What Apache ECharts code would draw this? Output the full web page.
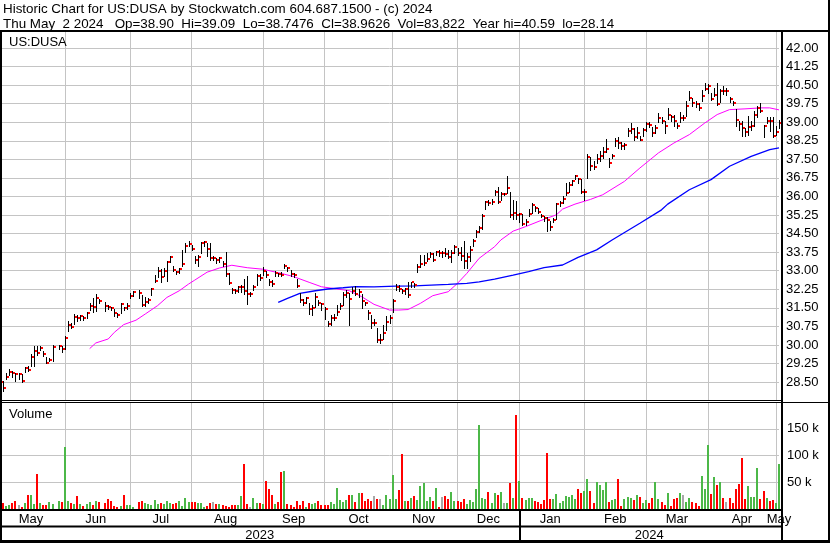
<!DOCTYPE html>
<html><head><meta charset="utf-8">
<script src="https://cdn.jsdelivr.net/npm/echarts@6/dist/echarts.min.js"></script>
<style>html,body{margin:0;padding:0;background:#fff}#c{width:830px;height:543px}</style>
</head><body><div id="c"></div>
<script>
const headerLine1 = 'Historic Chart for US:DUSA by Stockwatch.com 604.687.1500 - (c) 2024';
const headerLine2 = 'Thu May  2 2024   Op=38.90  Hi=39.09  Lo=38.7476  Cl=38.9626  Vol=83,822  Year hi=40.59  lo=28.14';
const symbolLabel = 'US:DUSA';
const volumeLabel = 'Volume';
const startDate = '2023-05-02';
const endDate = '2024-05-02';
const holidays = ['2023-05-29','2023-06-19','2023-07-04','2023-09-04','2023-11-23','2023-12-25','2024-01-01','2024-01-15','2024-02-19','2024-03-29'];
const monthNames = ['Jan','Feb','Mar','Apr','May','Jun','Jul','Aug','Sep','Oct','Nov','Dec'];

const closes = [
28.50,28.25,28.72,28.92,28.85,28.82,28.82,28.55,29.05,29.00,29.50,29.74,29.66,29.86,29.62,29.28,29.40,29.90,null,29.94,29.82,
30.30,30.82,30.71,31.14,31.09,31.15,31.07,31.28,31.59,31.52,31.90,31.76,null,31.59,31.52,31.48,31.28,31.20,31.65,31.48,31.59,
31.99,32.13,null,32.09,31.61,31.75,31.82,32.26,32.60,33.00,32.73,32.97,33.36,33.54,33.04,32.93,33.07,33.27,34.00,34.08,
33.89,33.45,33.55,34.12,34.14,33.86,33.53,33.53,33.42,33.50,33.28,32.86,32.50,32.23,32.16,32.34,32.36,32.16,32.07,32.07,32.34,32.77,32.70,
33.00,32.82,32.53,32.45,32.90,32.86,32.83,33.19,33.09,32.86,32.81,32.38,31.81,31.68,31.88,31.47,31.51,31.95,31.68,31.64,
31.47,30.84,31.07,31.10,31.34,31.58,32.00,32.08,31.85,32.19,32.04,32.15,31.78,31.68,31.30,30.90,30.90,30.19,30.19,30.49,30.93,31.07,
31.77,32.35,32.28,32.19,32.25,32.00,32.53,32.42,33.13,33.27,33.30,33.46,33.66,33.43,33.74,33.70,33.70,33.67,33.54,33.73,33.97,
33.70,33.59,33.41,33.55,33.84,34.18,34.58,34.72,35.22,35.76,35.73,35.76,36.18,35.76,36.10,36.10,36.36,35.26,35.32,35.25,
35.30,34.89,34.95,35.30,35.66,35.53,35.39,35.23,35.12,35.05,34.76,35.03,35.70,35.73,35.90,36.16,36.47,36.61,36.81,36.70,36.18,
36.20,37.58,37.22,37.18,37.53,37.65,37.80,37.93,37.35,37.62,38.23,38.16,38.05,38.10,38.64,38.73,38.39,38.57,38.30,38.70,
38.93,38.90,38.57,38.77,39.18,39.07,38.84,39.31,39.20,39.04,38.84,39.18,39.18,39.65,39.96,39.78,39.72,39.58,40.05,40.36,
40.46,39.95,40.09,39.74,40.28,40.26,40.26,39.92,39.78,39.10,38.93,38.77,38.60,38.80,38.84,39.31,39.58,39.47,38.84,39.07,39.04,38.43,
38.60,38.96];

const highs = [
28.95,28.55,28.85,29.03,28.95,28.88,28.85,28.82,29.12,29.15,29.63,29.97,29.97,29.97,29.75,29.50,29.48,30.00,null,30.00,29.96,
30.37,30.98,30.90,31.25,31.20,31.20,31.18,31.35,31.70,31.90,32.05,31.85,null,31.72,31.60,31.55,31.45,31.30,31.70,31.55,31.70,
32.10,32.18,null,32.20,32.00,31.95,31.88,32.32,32.82,33.15,33.05,33.10,33.40,33.58,33.20,33.00,33.10,33.85,34.10,34.20,
34.05,33.60,33.62,34.15,34.20,34.10,34.10,33.60,33.50,33.55,33.40,33.75,32.90,32.30,32.25,32.40,32.42,32.65,32.80,32.15,32.42,32.88,32.88,
33.14,33.00,32.65,32.62,32.98,32.92,32.95,33.28,33.15,33.02,32.90,32.65,32.08,31.85,31.95,31.68,31.60,32.10,31.80,31.68,
31.55,30.95,31.22,31.25,31.60,31.68,32.15,32.23,32.10,32.33,32.40,32.25,32.05,31.75,31.42,31.20,31.05,30.70,30.45,30.80,31.15,31.20,
31.85,32.45,32.42,32.28,32.30,32.55,32.55,32.50,33.28,33.62,33.62,33.70,33.75,33.70,33.80,33.85,33.78,33.90,33.85,33.82,34.05,
33.90,33.95,34.20,33.70,34.00,34.30,34.65,34.80,35.30,35.80,35.85,35.90,36.28,36.40,36.20,36.15,36.84,36.20,35.85,35.80,
35.35,35.30,35.10,35.50,35.72,35.62,35.55,35.30,35.20,35.18,35.00,35.12,35.75,35.80,36.00,36.55,36.60,36.68,36.88,36.75,36.70,
36.30,37.73,37.60,37.45,37.70,37.85,37.98,38.32,37.55,37.70,38.35,38.40,38.20,38.18,38.78,38.98,38.75,38.80,38.45,38.78,
39.01,39.00,38.80,38.90,39.38,39.20,39.04,39.58,39.30,39.30,38.98,39.42,39.30,39.85,40.25,39.96,39.85,39.78,40.32,40.59,
40.55,40.20,40.38,40.59,40.35,40.45,40.40,40.00,39.85,39.52,39.05,39.05,38.77,39.27,39.05,39.45,39.65,39.76,38.90,39.20,39.20,39.20,
38.85,39.09];

const lows = [
28.40,28.14,28.62,28.78,28.70,28.55,28.62,28.50,28.90,28.95,29.16,29.13,29.60,29.78,29.55,29.25,29.35,29.37,null,29.85,29.70,
29.83,30.55,30.68,30.85,30.95,31.00,31.00,31.10,31.40,31.35,31.38,31.70,null,31.38,31.45,31.40,31.15,31.12,31.30,31.42,31.45,
31.90,31.98,null,31.90,31.58,31.58,31.70,32.00,32.55,32.75,32.55,32.80,32.60,33.35,33.00,32.85,32.90,33.20,33.75,34.00,
33.85,33.30,33.20,33.70,34.00,33.60,33.45,33.45,33.30,33.35,33.20,32.80,32.45,32.10,32.08,32.15,32.15,32.05,31.66,31.98,32.20,32.42,32.62,
32.82,32.75,32.42,32.40,32.78,32.80,32.78,33.10,33.00,32.80,32.75,32.35,31.75,31.60,31.68,31.25,31.20,31.55,31.60,31.40,
31.05,30.78,30.80,31.00,31.20,31.45,31.60,31.95,30.80,32.10,32.00,31.95,31.50,31.60,31.03,30.68,30.80,30.10,30.08,30.25,30.60,30.88,
31.35,32.20,32.18,32.10,32.05,31.95,32.33,32.35,32.95,33.15,33.25,33.38,33.55,33.40,33.65,33.60,33.55,33.60,33.50,33.35,33.70,
33.62,33.45,33.10,33.10,33.40,34.00,34.35,34.55,34.70,35.50,35.65,35.70,36.05,35.75,35.85,36.05,36.15,35.15,35.10,35.10,
34.95,34.85,34.85,35.20,35.35,35.40,35.32,35.15,35.00,34.60,34.65,34.95,35.10,35.60,35.75,36.05,36.20,36.48,36.70,36.55,36.15,
35.85,36.74,37.05,37.10,37.35,37.45,37.55,37.80,37.20,37.55,38.05,37.95,37.90,37.92,38.45,38.58,38.30,38.35,38.28,38.45,
38.64,38.80,38.45,38.58,38.99,38.95,38.58,39.12,39.05,38.85,38.75,38.99,39.10,39.25,39.88,39.65,39.60,39.50,39.85,40.30,
40.18,39.88,40.05,39.70,39.80,40.15,40.12,39.80,39.70,38.85,38.70,38.45,38.45,38.50,38.70,38.85,39.20,39.40,38.40,38.95,38.65,38.40,
38.50,38.75];

// volume in thousands of shares
const volumes = [
15,10.6,5.6,7.5,10.6,15,7.5,4.4,10.6,26,26,9.3,65,10.6,7.5,7.5,12.5,9.3,null,15,13,
116,15,10.6,9.3,24,8.7,5.6,9.3,13,7.5,15,13,null,10.6,18.7,15,5.6,3,5.6,26,7.5,
7.5,3,null,13,15,10.6,9.3,7.5,17,9.3,11,9.3,15,11,9.3,11,15,5.6,20.6,13,
13,13,11,11,4.4,5.6,10.6,13,9.3,9.3,7.5,5.6,3.7,7.5,7.5,7.5,24,84,9.3,3.7,20.6,11,11,
9.3,52,37,26,9.3,13,69,71,9.3,7.5,3.7,15,7.5,15,3.7,11,9.3,11,15,7.5,
7.5,7.5,13,9.3,39,17,13,17,26,26,13,30,30,15,18.7,15,24,18.7,18.7,7.5,26,18.7,
63.5,18.7,35.5,103,15,15,20.6,24,17,43,48,15,22,15,40,3,22,24,18.7,32,15,
15,13,18.7,9.3,17,13,37,157,20.6,18.7,32,11,30,26,32,11,11,48,20.6,175,
52,20.6,17,20.6,20.6,15,13,9.3,17,105,18.7,18.7,28,11,15,24,22,26,18.7,37,30,
34,57,34,11,51,45,35,51,13,17,19,56,5,19,22,20.6,17,26,22,11,
17,11,20.6,50,19,13,7.5,30,5.6,19,20.6,30,26,13,20.6,13,11,5,62,37,
120,28,60,45,50,21,13,21,11,37,47,95,19,43,22,22,76,19,34,21,15,17,
11,83.822];

// moving averages: [day index, value]
const maShort = [[29,29.85],[31,30.08],[35,30.24],[37,30.51],[40,30.82],[44,31.00],[47,31.25],[51,31.59],[54,31.92],[58,32.19],[61,32.46],[63,32.62],[67,32.94],[71,33.11],[75,33.22],[80,33.12],[85,33.06],[91,32.89],[95,32.76],[100,32.53],[104,32.35],[108,32.28],[113,32.19],[117,31.95],[121,31.64],[126,31.41],[129,31.41],[132,31.43],[136,31.68],[140,31.99],[145,32.15],[148,32.49],[151,32.89],[155,33.50],[160,33.97],[162,34.24],[166,34.60],[170,34.78],[175,35.03],[180,35.26],[182,35.49],[186,35.69],[191,35.88],[195,36.07],[202,36.61],[207,37.15],[213,37.76],[218,38.16],[223,38.50],[228,38.97],[232,39.31],[236,39.51],[241,39.54],[246,39.58],[249,39.58],[252,39.50]];
const maLong = [[90,31.72],[93,31.88],[97,32.08],[102,32.19],[106,32.26],[111,32.31],[115,32.36],[121,32.35],[128,32.38],[134,32.39],[145,32.45],[151,32.49],[155,32.55],[160,32.66],[166,32.82],[171,32.96],[176,33.12],[182,33.23],[187,33.54],[193,33.84],[198,34.24],[207,34.92],[214,35.46],[216,35.69],[223,36.27],[230,36.68],[236,37.22],[243,37.62],[249,37.89],[252,37.96]];

// ---- build categories (trading days) ----
function tradingDays(s, e, hol) {
  const out = []; const hs = new Set(hol);
  let d = new Date(s + 'T00:00:00Z'); const end = new Date(e + 'T00:00:00Z');
  while (d <= end) {
    const wd = d.getUTCDay(); const iso = d.toISOString().slice(0, 10);
    if (wd !== 0 && wd !== 6 && !hs.has(iso)) out.push(iso);
    d = new Date(d.getTime() + 86400000);
  }
  return out;
}
const dates = tradingDays(startDate, endDate, holidays);
const monthStart = new Set(); const monthLabel = new Set(); const yearLabel = new Set(); const yearStart = new Set();
(function () {
  let segs = [0];
  for (let i = 1; i < dates.length; i++) if (dates[i].slice(5, 7) !== dates[i - 1].slice(5, 7)) { monthStart.add(i); segs.push(i); }
  segs.push(dates.length);
  for (let k = 0; k < segs.length - 1; k++) monthLabel.add(Math.floor((segs[k] + segs[k + 1]) / 2));
  let ys = [0];
  for (let i = 1; i < dates.length; i++) if (dates[i].slice(0, 4) !== dates[i - 1].slice(0, 4)) { ys.push(i); yearStart.add(i); }
  ys.push(dates.length);
  for (let k = 0; k < ys.length - 1; k++) yearLabel.add(Math.floor((ys[k] + ys[k + 1]) / 2));
})();

const priceData = []; const volData = [];
let prev = null;
for (let i = 0; i < dates.length; i++) {
  if (closes[i] != null) priceData.push([i, highs[i], lows[i], closes[i]]);
  if (volumes[i] != null) {
    let dir = 0;
    if (prev != null && closes[i] != null) dir = closes[i] > prev ? 1 : (closes[i] < prev ? -1 : 0);
    volData.push([i, volumes[i], dir]);
  }
  if (closes[i] != null) prev = closes[i];
}

const FONT = 'Liberation Sans, Arial, sans-serif';
const GRID_C = '#c4c4c4';
const GREEN = '#4cb848', RED = '#ff0000', GRAY = '#a8a8a8';

const chart = echarts.init(document.getElementById('c'));
const blk = (x, y, w, h) => ({ type: 'rect', z: 100, shape: { x, y, width: w, height: h }, style: { fill: '#000' }, silent: true });
const txt = (x, y, t, fs) => ({ type: 'text', z: 101, x, y, style: { text: t, font: fs + 'px ' + FONT, fill: '#000', verticalAlign: 'middle', align: 'left' }, silent: true });

const splitMonth = { show: true, interval: (i) => monthStart.has(i), lineStyle: { color: GRID_C, width: 1 } };

chart.setOption({
  animation: false,
  backgroundColor: '#fff',
  grid: [
    { left: 0, right: 51, top: 31.5, height: 369.1 },
    { left: 0, right: 51, top: 402, height: 107 }
  ],
  xAxis: [
    { type: 'category', gridIndex: 0, data: dates, boundaryGap: false, axisLine: { show: false }, axisTick: { show: false }, axisLabel: { show: false }, splitLine: splitMonth },
    { type: 'category', gridIndex: 1, data: dates, boundaryGap: false, axisLine: { show: false }, axisTick: { show: false },
      axisLabel: { show: true, interval: (i) => monthLabel.has(i), formatter: (v) => monthNames[+v.slice(5, 7) - 1], margin: 4, fontSize: 13, fontFamily: FONT, color: '#000' },
      splitLine: splitMonth },
    { type: 'category', gridIndex: 1, data: dates, boundaryGap: false, position: 'bottom', offset: 16, axisLine: { show: false }, axisTick: { show: false },
      axisLabel: { show: true, interval: (i) => yearLabel.has(i), formatter: (v) => v.slice(0, 4), margin: 4, fontSize: 13, fontFamily: FONT, color: '#000' },
      splitLine: { show: false } },
    { type: 'category', gridIndex: 1, data: dates, boundaryGap: false, position: 'bottom', offset: 32, axisLine: { show: false }, axisLabel: { show: false },
      axisTick: { show: true, inside: true, length: 31, interval: (i) => yearStart.has(i), lineStyle: { color: '#000', width: 2 } },
      splitLine: { show: false } }
  ],
  yAxis: [
    { type: 'value', gridIndex: 0, position: 'right', min: 27.75, max: 42.667, interval: 0.75, axisLine: { show: false }, axisTick: { show: false },
      axisLabel: { margin: 7, fontSize: 13, fontFamily: FONT, color: '#000', formatter: (v) => (v > 28.4 && v < 42.05) ? v.toFixed(2) : '' },
      splitLine: { show: true, lineStyle: { color: GRID_C, width: 1 } } },
    { type: 'value', gridIndex: 1, position: 'right', min: 0, max: 200, interval: 50, axisLine: { show: false }, axisTick: { show: false },
      axisLabel: { margin: 8, fontSize: 13, fontFamily: FONT, color: '#000', formatter: (v) => (v > 0 && v < 200) ? v + ' k' : '' },
      splitLine: { show: true, lineStyle: { color: GRID_C, width: 1 } } }
  ],
  series: [
    { type: 'custom', name: 'price', xAxisIndex: 0, yAxisIndex: 0, data: priceData, encode: { x: 0, y: [1, 2, 3] }, z: 3,
      renderItem: (params, api) => {
        const i = api.value(0);
        const pH = api.coord([i, api.value(1)]), pL = api.coord([i, api.value(2)]), pC = api.coord([i, api.value(3)]);
        const x = Math.round(pH[0]);
        const yH = Math.round(pH[1]), yL = Math.round(pL[1]), yC = Math.round(pC[1]);
        return { type: 'group', children: [
          { type: 'rect', shape: { x: x, y: yH, width: 1, height: Math.max(1, yL - yH + 1) }, style: { fill: '#000' } },
          { type: 'rect', shape: { x: x + 1, y: yC - 1, width: 2, height: 2 }, style: { fill: RED } }
        ] };
      } },
    { type: 'line', name: 'maShort', xAxisIndex: 0, yAxisIndex: 0, data: maShort, showSymbol: false, z: 2,
      lineStyle: { color: '#ff00ff', width: 1 }, itemStyle: { color: '#ff00ff' } },
    { type: 'line', name: 'maLong', xAxisIndex: 0, yAxisIndex: 0, data: maLong, showSymbol: false, z: 2,
      lineStyle: { color: '#0000ff', width: 1.3 }, itemStyle: { color: '#0000ff' } },
    { type: 'custom', name: 'volume', xAxisIndex: 1, yAxisIndex: 1, data: volData, encode: { x: 0, y: 1 },
      renderItem: (params, api) => {
        const i = api.value(0), v = api.value(1), d = api.value(2);
        const top = api.coord([i, v]), base = api.coord([i, 0]);
        const x = Math.round(top[0]) - 1, y = Math.round(top[1]);
        return { type: 'rect', shape: { x: x, y: y, width: 2, height: Math.round(base[1]) - y }, style: { fill: d > 0 ? GREEN : (d < 0 ? RED : GRAY) } };
      } }
  ],
  graphic: { elements: [
    blk(0, 30, 830, 2),
    blk(0, 30, 2, 513),
    blk(828, 0, 2, 543),
    blk(0, 400, 783, 1),
    blk(0, 402, 830, 1),
    blk(0, 509, 783, 2),
    blk(0, 525.5, 783, 2),
    blk(0, 540, 830, 3),
    blk(781, 30, 2, 512),
    txt(3, 9.2, headerLine1, 13.4),
    txt(3, 24.2, headerLine2, 13.4),
    txt(9, 42.6, symbolLabel, 13),
    txt(9, 414.3, volumeLabel, 13)
  ] }
});
</script></body></html>
